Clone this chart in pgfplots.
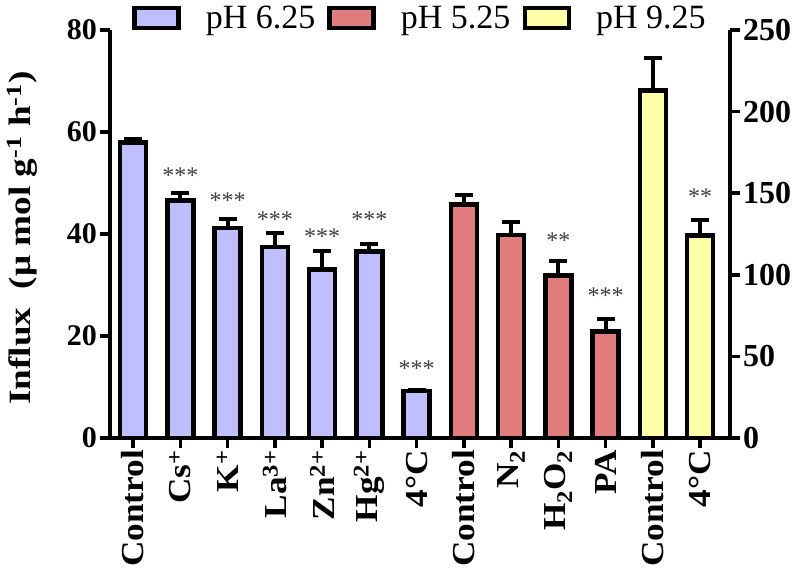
\documentclass[border=0pt]{standalone}
\usepackage{pgfplots}
\pgfplotsset{compat=1.18}
\usepackage{pgfplotstable}
\usepackage{fontspec}
\setmainfont{Liberation Serif}
\definecolor{pblue}{RGB}{191,191,255}
\definecolor{pred}{RGB}{225,125,125}
\definecolor{pyel}{RGB}{255,255,170}

\pgfplotstableread{
x y e
0 57.9 0.7
1 46.6 1.4
2 41.2 1.7
3 37.5 2.6
4 33.0 3.6
5 36.6 1.4
6 9.2 0.2
}\tblue
\pgfplotstableread{
x y e
7 45.8 1.8
8 39.8 2.5
9 31.9 2.8
10 20.9 2.5
}\tred
\pgfplotstableread{
x y e
11 213 20
12 124 9.5
}\tyel

\newcommand\xs[1]{\scalebox{1.1}[1]{#1}}

\pgfplotsset{
  common/.style={
    at={(110pt,136pt)}, anchor=south west, scale only axis,
    width=620pt, height=408pt,
    xmin=-0.487, xmax=12.63, ymin=0,
    tick align=outside, major tick length=10pt,
    every tick/.append style={black, line width=3.5pt},
    axis line style={black, line width=3.5pt, -},
    every outer x axis line/.append style={-},
    every outer y axis line/.append style={-},
    clip=false,
    /pgf/number format/assume math mode=true,
    yticklabel style={font=\fontsize{30}{32}\selectfont\bfseries, inner sep=3pt},
  },
  mybar/.style={ybar, bar width=26pt, draw=black, line width=4.5pt, fill=#1, forget plot,
    error bars/.cd, y dir=plus, y explicit,
    error bar style={line width=4pt, black},
    error mark options={rotate=90, mark size=9pt, line width=4pt, black}},
  boxlegend/.style={legend image code/.code={\draw[draw=black, line width=4.5pt, fill=#1] (0pt,-10pt) rectangle (44pt,10pt);}},
}
\tikzset{sig/.style={font=\fontsize{24}{26}\selectfont, text=black!75, inner sep=0pt, yshift=-3.8pt}}

\begin{document}
\begin{tikzpicture}
\useasboundingbox (0,0) rectangle (797pt,574pt);
% left axis: y axis, x axis, blue and red bars
\begin{axis}[axis lines*=left, common, ymax=80,
  ytick={0,20,40,60,80},
  ytick style={black},
  xtick={0,...,12},
  xticklabels={\xs{Control}, \xs{Cs\textsuperscript{+}}, \xs{K\textsuperscript{+}}, \xs{La\textsuperscript{3+}}, \xs{Zn\textsuperscript{2+}}, \xs{Hg\textsuperscript{2+}}, \xs{4°C}, \xs{Control}, \xs{N\textsubscript{2}}, \xs{H\textsubscript{2}O\textsubscript{2}}, \xs{PA}, \xs{Control}, \xs{4°C}},
  xticklabel style={rotate=90, anchor=east, font=\fontsize{32}{34}\selectfont\bfseries, inner sep=2pt},
  ylabel={\scalebox{1.2}[1]{Influx~~(μ~mol~g\textsuperscript{-1}~h\textsuperscript{-1})}},
  ylabel style={at={(axis description cs:-0.142,0.49)}, anchor=center, font=\fontsize{31}{34}\selectfont\bfseries},
  legend style={at={(axis description cs:0.5,1.03)}, anchor=center, draw=none, fill=none,
    legend columns=3, font=\fontsize{34}{36}\selectfont,
    /tikz/every odd column/.append style={column sep=23pt},
    /tikz/every even column/.append style={column sep=10pt}},
]
\addplot[mybar=pblue] table[x=x, y=y, y error=e] {\tblue};
\addplot[mybar=pred] table[x=x, y=y, y error=e] {\tred};
\addlegendimage{boxlegend=pblue}\addlegendentry{pH 6.25}
\addlegendimage{boxlegend=pred}\addlegendentry{pH 5.25}
\addlegendimage{boxlegend=pyel}\addlegendentry{pH 9.25}
\node[sig] at (axis cs:1,52.2) {***};
\node[sig] at (axis cs:2,47.3) {***};
\node[sig] at (axis cs:3,43.5) {***};
\node[sig] at (axis cs:4,40.3) {***};
\node[sig] at (axis cs:5,43.5) {***};
\node[sig] at (axis cs:6,14.3) {***};
\node[sig] at (axis cs:9,39.5) {**};
\node[sig] at (axis cs:10,28.7) {***};
\end{axis}
% right axis: yellow bars
\begin{axis}[axis y line*=right, axis x line=none, common, ymax=250,
  ytick={0,50,100,150,200,250},
  yticklabel style={font=\fontsize{32}{34}\selectfont\bfseries},
  xtick=\empty,
]
\addplot[mybar=pyel] table[x=x, y=y, y error=e] {\tyel};
\node[sig] at (axis cs:12,150.3) {**};
\end{axis}
\end{tikzpicture}
\end{document}
